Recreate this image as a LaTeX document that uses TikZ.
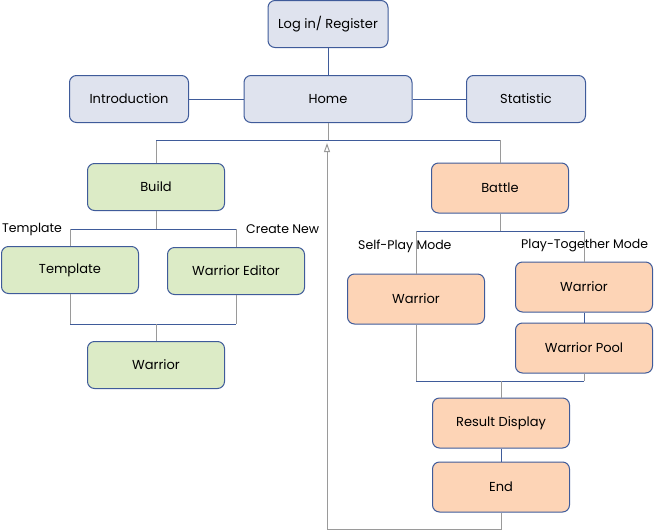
\documentclass[tikz,border=0pt]{standalone}
\usepackage{fontspec}
\setmainfont{Poppins}
\usetikzlibrary{arrows.meta, positioning}
\definecolor{boxline}{HTML}{3F5B9A}
\definecolor{linegray}{HTML}{9A9A9A}
\definecolor{mainfill}{HTML}{DFE3EE}
\definecolor{buildfill}{HTML}{DCEBC6}
\definecolor{battlefill}{HTML}{FDD4B6}
\tikzset{
  flowbox/.style={draw=boxline, fill=#1, rounded corners=7pt,
              minimum width=137pt, minimum height=47pt,
              align=center, text=black, font=\fontsize{13}{15}\selectfont,
              line width=1pt, inner sep=0pt},
  modelabel/.style={anchor=west, inner sep=0pt, text=black,
              font=\fontsize{12.5}{14}\selectfont},
  bluelink/.style={draw=boxline, line width=1pt},
  graylink/.style={draw=linegray, line width=1pt},
}
\begin{document}
\begin{tikzpicture}[x=1pt, y=-1pt]
  \useasboundingbox (0,0) rectangle (654,531);
  % top row
  \node[flowbox=mainfill, minimum width=120pt] (login) at (328,24)  {Log in/ Register};
  \node[flowbox=mainfill, minimum width=119pt] (intro) at (129,99)  {Introduction};
  \node[flowbox=mainfill, minimum width=168pt] (home)  at (328,99)  {Home};
  \node[flowbox=mainfill, minimum width=119pt] (stats) at (526,99)  {Statistic};
  % build branch
  \node[flowbox=buildfill]  (build)    at (156,187) {Build};
  \node[flowbox=buildfill]  (template) at (70,270)  {Template};
  \node[flowbox=buildfill]  (editor)   at (236,271) {Warrior Editor};
  \node[flowbox=buildfill]  (bwarrior) at (156,365) {Warrior};
  % battle branch
  \node[flowbox=battlefill, minimum height=50pt] (battle) at (500,188) {Battle};
  \node[flowbox=battlefill, minimum height=50pt] (swarrior) at (416,299) {Warrior};
  \node[flowbox=battlefill, minimum height=50pt] (twarrior) at (584,287) {Warrior};
  \node[flowbox=battlefill, minimum height=50pt] (pool)     at (584,348) {Warrior Pool};
  \node[flowbox=battlefill, minimum height=50pt] (result)   at (501,423) {Result Display};
  \node[flowbox=battlefill, minimum height=50pt] (finish)   at (501,487) {End};
  % branch labels
  \node[modelabel] (ltemplate) at (2,229)   {Template};
  \node[modelabel] (lcreate)   at (246,229) {Create New};
  \node[modelabel] (lself)     at (358,246) {Self-Play Mode};
  \node[modelabel] (ltogether) at (521,246) {Play-Together Mode};
  % bus points
  \coordinate (topbus)    at (328,140);
  \coordinate (buildbus)  at (156,229);
  \coordinate (wbus)      at (156,324);
  \coordinate (battlebus) at (500,231);
  \coordinate (endbus)    at (501,381);
  \coordinate (returntip) at (327,143);
  % top connections
  \draw[bluelink] (login) -- (home);
  \draw[bluelink] (intro) -- (home);
  \draw[bluelink] (home) -- (stats);
  \draw[graylink] (home.south) -- (home.south |- topbus);
  \draw[graylink] (build.north) -- (build.north |- topbus);
  \draw[graylink] (battle.north) -- (battle.north |- topbus);
  \draw[bluelink] (build.north |- topbus) -- (battle.north |- topbus);
  % build connections
  \draw[graylink] (build.south) -- (buildbus);
  \draw[bluelink] (template.north |- buildbus) -- (editor.north |- buildbus);
  \draw[graylink] (template.north |- buildbus) -- (template.north);
  \draw[graylink] (editor.north |- buildbus) -- (editor.north);
  \draw[graylink] (template.south) -- (template.south |- wbus);
  \draw[graylink] (editor.south) -- (editor.south |- wbus);
  \draw[bluelink] (template.south |- wbus) -- (editor.south |- wbus);
  \draw[graylink] (wbus) -- (bwarrior.north);
  % battle connections
  \draw[graylink] (battle.south) -- (battlebus);
  \draw[bluelink] (swarrior.north |- battlebus) -- (twarrior.north |- battlebus);
  \draw[graylink] (swarrior.north |- battlebus) -- (swarrior.north);
  \draw[graylink] (twarrior.north |- battlebus) -- (twarrior.north);
  \draw[bluelink] (twarrior) -- (pool);
  \draw[graylink] (swarrior.south) -- (swarrior.south |- endbus);
  \draw[graylink] (pool.south) -- (pool.south |- endbus);
  \draw[bluelink] (swarrior.south |- endbus) -- (pool.south |- endbus);
  \draw[graylink] (endbus) -- (result.north);
  \draw[bluelink] (result) -- (finish);
  % back to home
  \draw[graylink, -{Triangle[open, length=9pt, width=6pt]}]
    (finish.south) -- ++(0,17) -| (returntip);
\end{tikzpicture}
\end{document}
